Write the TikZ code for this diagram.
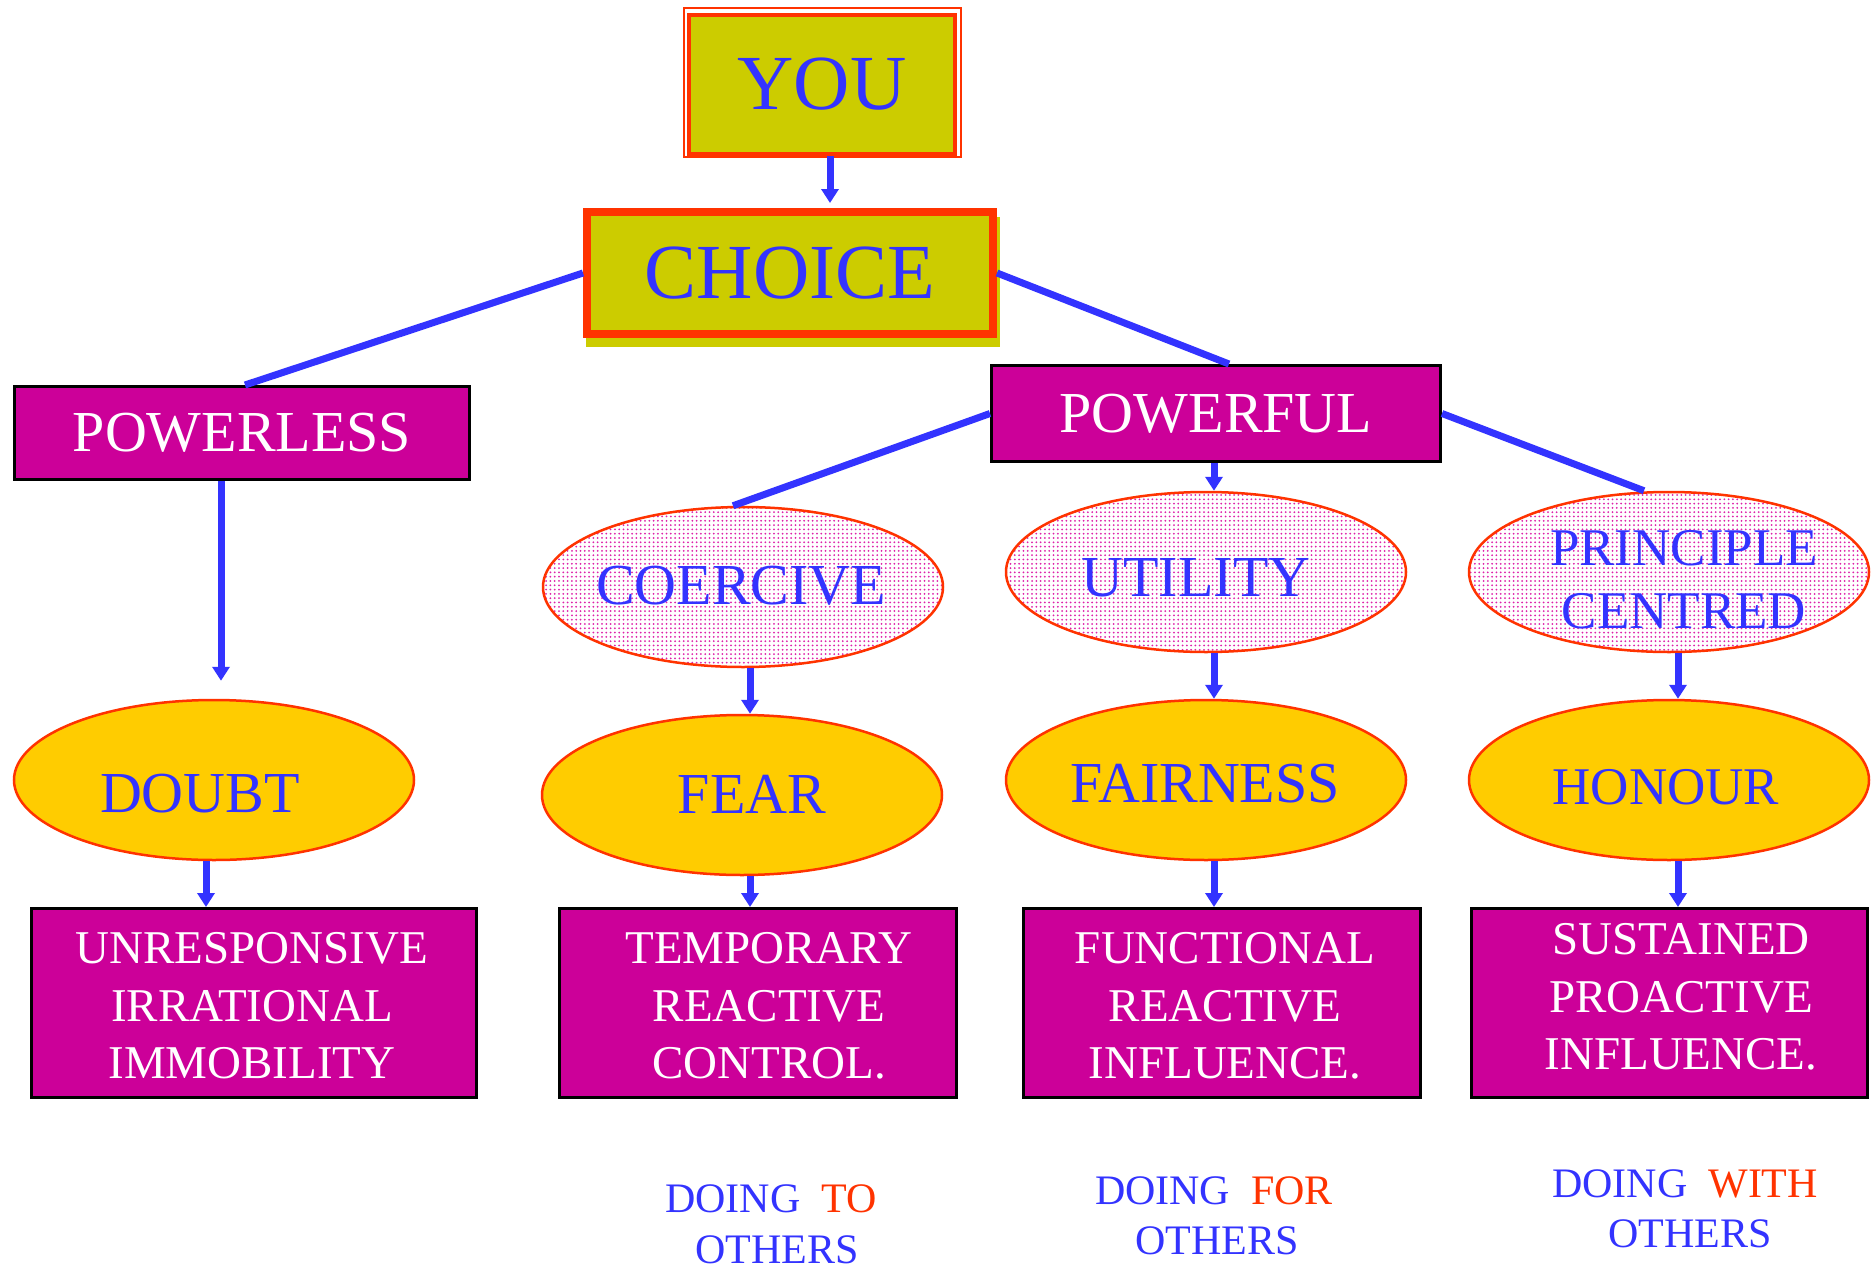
\documentclass[tikz,border=0pt]{standalone}
\usepackage{fontspec}
\setmainfont{Liberation Serif}
\usetikzlibrary{arrows.meta,shapes.geometric,patterns.meta,calc}
\definecolor{cyel}{HTML}{CCCC00}
\definecolor{cmag}{HTML}{CC0099}
\definecolor{cgold}{HTML}{FFCC00}
\definecolor{cblue}{HTML}{3333FF}
\definecolor{cred}{HTML}{FF3300}
\definecolor{cdot}{HTML}{DD22AA}
\begin{document}
\begin{tikzpicture}[x=1pt,y=-1pt,
  conn/.style={cblue,line width=7pt},
  arr/.style={conn,-{Triangle[width=17pt,length=14pt]}},
  magbox/.style={rectangle,fill=cmag,draw=black,line width=3pt,inner sep=0pt},
  dotell/.style={ellipse,draw=cred,line width=2.5pt,inner sep=0pt,
     pattern={Dots[distance=4.3pt,radius=1pt]},pattern color=cdot,
     minimum width=400pt,minimum height=160pt},
  goldell/.style={ellipse,draw=cred,line width=2.5pt,inner sep=0pt,fill=cgold,
     minimum width=400pt,minimum height=160pt},
  huge/.style={inner sep=0pt,text=cblue,font=\fontsize{78}{94}\selectfont},
  midw/.style={inner sep=0pt,text=white,font=\fontsize{58}{70}\selectfont},
  midb/.style={inner sep=0pt,text=cblue,font=\fontsize{58}{70}\selectfont},
  prin/.style={inner sep=0pt,text=cblue,align=center,font=\fontsize{53}{63}\selectfont},
  boxtxt/.style={inner sep=0pt,text=white,align=center,font=\fontsize{47}{57.5}\selectfont},
  lowtxt/.style={inner sep=0pt,text=cblue,font=\fontsize{42}{50}\selectfont}
]
\fill[white] (0,0) rectangle (1875,1269);
\useasboundingbox (0,0) rectangle (1875,1269);

% YOU
\node[draw=cred,line width=2pt,minimum width=277pt,minimum height=149pt,inner sep=0pt] (youframe) at (822.5,82.5) {};
\node[draw=cred,fill=cyel,line width=4pt,minimum width=266pt,minimum height=139pt,inner sep=0pt,huge] (you) at (822,84.5) {YOU};

% CHOICE
\node[minimum width=406pt,minimum height=122pt,line width=8pt,inner sep=0pt] (choicebb) at (790,273) {};
\fill[cyel] ([xshift=3pt,yshift=-9pt]choicebb.south west) rectangle ([xshift=3pt,yshift=-9pt]choicebb.north east);
\node[draw=cred,fill=cyel,line width=8pt,minimum width=406pt,minimum height=122pt,inner sep=0pt,huge] (choice) at (790,273) {CHOICE};

% level 2
\node[magbox,minimum width=455pt,minimum height=93pt,midw] (powerless) at (242,433) {POWERLESS};
\node[magbox,minimum width=449pt,minimum height=96pt,midw] (powerful) at (1216,413.5) {POWERFUL};

% dotted ellipses
\node[dotell] (coercive) at (743,587) {};
\node[dotell] (utility) at (1206,572) {};
\node[dotell] (principle) at (1669,572) {};
\node[midb] (tcoercive) at (741,586) {COERCIVE};
\node[midb] (tutility) at (1196,578) {UTILITY};
\node[prin] (tprinciple) at (1684,580) {PRINCIPLE\\CENTRED};

% gold ellipses
\node[goldell] (doubt) at (214,780) {};
\node[goldell] (fear) at (742,795) {};
\node[goldell] (fairness) at (1206,780) {};
\node[goldell] (honour) at (1669,780) {};
\node[midb] (tdoubt) at (200,794) {DOUBT};
\node[midb] (tfear) at (752,794) {FEAR};
\node[midb] (tfairness) at (1205,784) {FAIRNESS};
\node[prin] (thonour) at (1666,787) {HONOUR};

% bottom boxes
\node[magbox,minimum width=445pt,minimum height=189pt] (unresp) at (254,1003) {};
\node[magbox,minimum width=397pt,minimum height=189pt] (temporary) at (758,1003) {};
\node[magbox,minimum width=397pt,minimum height=189pt] (functional) at (1222,1003) {};
\node[magbox,minimum width=396pt,minimum height=189pt] (sustained) at (1669.5,1003) {};
\node[boxtxt] (tunresp) at (252,1006) {UNRESPONSIVE\\IRRATIONAL\\IMMOBILITY};
\node[boxtxt] (ttemporary) at (769,1006) {TEMPORARY\\REACTIVE\\CONTROL.};
\node[boxtxt] (tfunctional) at (1225,1006) {FUNCTIONAL\\REACTIVE\\INFLUENCE.};
\node[boxtxt] (tsustained) at (1681,997) {SUSTAINED\\PROACTIVE\\INFLUENCE.};

% bottom labels
\node[lowtxt] (dto) at (771,1199) {DOING\hspace{21pt}\textcolor{cred}{TO}};
\node[lowtxt] (dtoo) at (777,1250) {OTHERS};
\node[lowtxt] (dfor) at (1214,1191) {DOING\hspace{21pt}\textcolor{cred}{FOR}};
\node[lowtxt] (dforo) at (1217,1241) {OTHERS};
\node[lowtxt] (dwith) at (1685,1184) {DOING\hspace{21pt}\textcolor{cred}{WITH}};
\node[lowtxt] (dwitho) at (1690,1234) {OTHERS};

% connectors
\draw[arr] ([xshift=8pt]you.south) -- ([xshift=8pt]you.south |- choice.north) [shorten >=5pt];
\draw[conn] (choice.west) -- ([xshift=3pt]powerless.north);
\draw[conn] (choice.east) -- ([xshift=13pt]powerful.north);
\draw[conn] (powerful.west) -- ([xshift=-10pt]coercive.north);
\draw[conn] (powerful.east) -- ([xshift=-25pt]principle.north);
\draw[arr] ([xshift=-2pt]powerful.south) -- ([xshift=-2pt]powerful.south |- utility.north);
\draw[arr,shorten >=18pt] ([xshift=-21pt]powerless.south) -- ([xshift=-21pt]powerless.south |- doubt.north);
\draw[arr] ([xshift=7pt]coercive.south) -- ([xshift=7pt]coercive.south |- fear.north);
\draw[arr] ([xshift=8pt]utility.south) -- ([xshift=8pt]utility.south |- fairness.north);
\draw[arr] ([xshift=9pt]principle.south) -- ([xshift=9pt]principle.south |- honour.north);
\draw[arr] ([xshift=-8pt]doubt.south) -- ([xshift=-8pt]doubt.south |- unresp.north);
\draw[arr] ([xshift=8pt]fear.south) -- ([xshift=8pt]fear.south |- temporary.north);
\draw[arr] ([xshift=8pt]fairness.south) -- ([xshift=8pt]fairness.south |- functional.north);
\draw[arr] ([xshift=9pt]honour.south) -- ([xshift=9pt]honour.south |- sustained.north);
\end{tikzpicture}
\end{document}
